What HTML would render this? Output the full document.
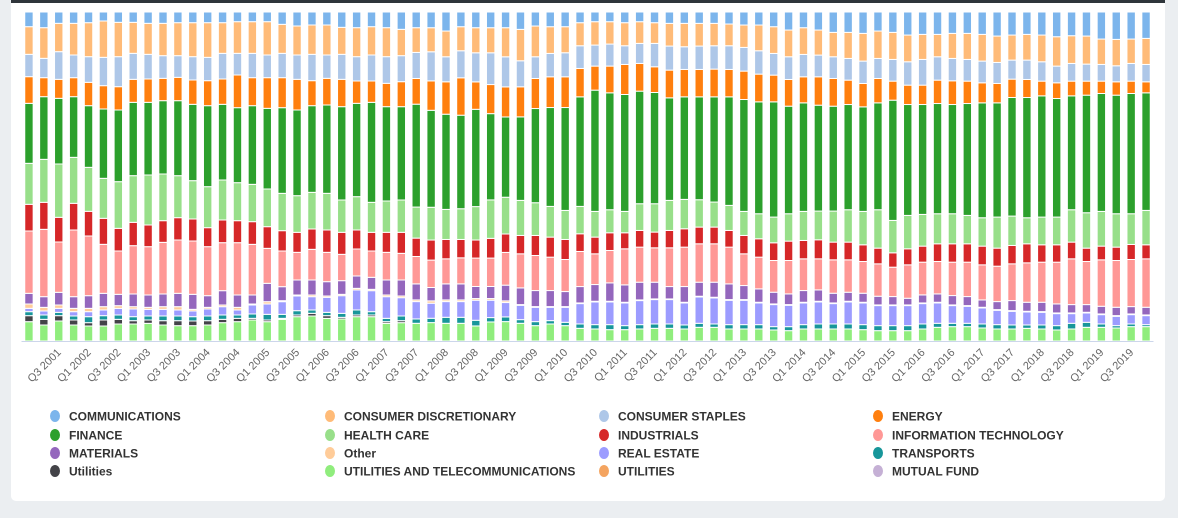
<!DOCTYPE html>
<html><head><meta charset="utf-8"><style>
html,body{margin:0;padding:0;background:#ebeef1;width:1178px;height:518px;overflow:hidden;font-family:"Liberation Sans",sans-serif}
#card{position:absolute;left:11px;top:0;width:1154px;height:501px;background:#fff;border-radius:0 0 5px 5px}
#topbar{position:absolute;left:11px;top:0;width:1154px;height:3px;background:#2f353b}
svg{position:absolute;left:0;top:0}
</style></head><body>
<div id="card"></div>
<div id="topbar"></div>
<svg id="chart" width="1178" height="518"></svg>
<script>
// series values (relative shares per quarter, normalized to 100% per bar)
const comm=[44,47,34,34,32,27,31,31,34,34,32,32,32,32,29,29,29,37,42,39,39,46,47,44,47,52,47,47,57,44,47,47,47,52,42,44,44,32,29,29,32,29,32,34,34,34,34,36,39,39,44,54,47,54,61,61,64,57,61,69,67,67,64,64,67,72,69,67,69,74,71,72,81,82,81,79];
const disc=[83,92,85,95,102,109,103,93,93,97,99,102,104,92,95,95,100,87,87,88,90,81,87,85,87,79,74,72,77,72,75,75,87,94,92,80,78,69,70,67,69,65,62,68,70,68,67,65,67,77,80,80,80,75,73,78,83,82,81,80,75,67,75,78,80,79,75,77,80,88,83,84,76,79,73,78];
const stap=[67,58,83,68,77,85,90,78,74,68,65,70,70,77,65,73,68,73,73,79,70,75,73,78,80,78,78,87,75,81,87,95,90,78,65,70,72,68,63,66,56,60,70,72,68,70,70,71,71,70,65,68,67,65,65,65,67,60,65,70,77,70,67,65,65,63,57,58,58,50,53,51,50,48,53,52];
const energy=[80,57,57,57,70,70,70,69,70,67,70,73,75,76,98,84,92,90,92,75,80,82,67,64,70,75,77,88,97,112,82,87,90,90,90,92,92,85,72,80,90,83,77,83,82,82,83,82,85,83,80,80,78,85,83,73,70,73,57,58,58,70,71,67,60,58,55,54,44,47,44,42,37,40,37,33];
const fin=[180,188,197,182,185,208,215,220,218,220,225,229,243,227,225,236,242,257,257,260,265,280,280,300,283,280,308,290,285,280,291,258,240,250,282,296,308,328,363,350,350,337,333,307,307,308,315,325,335,335,345,322,325,317,314,315,313,320,360,332,329,330,327,335,344,342,355,360,363,355,341,352,353,355,360,352];
const health=[123,129,160,138,132,120,140,140,150,140,126,115,123,120,114,112,113,112,110,110,110,97,100,90,94,97,93,98,90,92,100,115,110,105,98,92,87,82,77,69,64,80,85,90,88,82,75,75,72,75,77,82,87,86,93,97,100,115,97,100,95,90,90,85,85,93,88,78,83,83,97,106,104,100,92,103];
const ind=[80,81,74,80,74,78,68,70,65,65,67,66,57,68,66,68,65,61,60,61,67,66,57,56,60,63,55,60,58,55,54,59,55,55,60,60,60,53,50,53,48,50,47,52,55,50,50,50,55,55,53,58,55,57,53,53,50,47,43,48,48,53,55,55,56,54,55,57,52,52,50,40,41,40,45,42];
const it=[187,202,151,200,179,147,130,145,145,155,160,160,147,144,157,152,105,107,83,92,88,79,81,79,83,80,82,82,75,78,85,85,98,102,105,100,96,105,92,97,108,105,103,116,118,115,115,110,95,95,95,100,95,93,100,97,95,97,88,100,98,97,100,103,105,106,110,118,120,125,137,129,139,140,141,145];
const mat=[32,32,38,35,38,40,34,38,37,38,40,45,35,43,37,27,55,42,45,45,43,41,37,36,45,48,48,40,48,48,36,36,47,50,48,48,45,49,50,55,52,53,50,37,47,42,45,47,42,40,35,32,35,34,29,27,27,26,25,20,24,25,28,27,22,24,30,27,28,27,25,23,23,25,22,23];
const other=[13,11,10,10,10,10,8,7,6,8,10,5,5,5,8,3,7,3,3,5,4,4,5,4,5,5,5,7,5,5,5,5,5,2,2,2,2,2,2,2,2,2,2,2,2,2,2,2,2,2,2,2,2,2,2,2,2,2,2,2,2,2,2,2,2,2,2,2,2,2,2,2,2,2,2,2];
const realEstate=[10,12,12,13,15,17,20,23,20,20,18,17,21,25,15,27,31,38,44,40,45,53,60,63,65,55,52,45,47,47,60,52,43,43,43,40,45,61,68,68,68,72,73,73,66,79,78,73,73,65,66,64,65,66,61,66,65,60,60,60,61,61,53,51,48,43,41,39,38,36,29,28,28,28,28,27];
const transports=[12,13,10,12,18,13,13,12,12,14,14,13,14,13,10,13,17,12,13,10,10,12,15,10,10,14,13,13,18,18,17,13,14,11,12,10,10,13,13,15,12,13,13,13,12,12,10,13,13,13,10,12,13,15,15,15,15,15,15,15,15,12,10,10,12,13,12,10,12,13,17,15,10,7,8,6];
const utilitiesLower=[18,17,16,15,10,18,14,10,10,13,15,14,13,10,10,5,5,3,5,8,8,5,5,5,5,6,0,0,0,0,0,0,0,0,0,0,0,0,0,0,0,0,0,0,0,0,0,0,0,0,0,0,0,0,0,0,0,0,0,0,0,0,0,0,0,0,0,0,0,0,0,0,0,0,0,0];
const utilTele=[58,48,60,48,45,45,51,51,53,48,46,46,48,55,58,63,58,65,73,75,68,66,73,73,53,55,53,55,53,53,45,57,58,53,46,51,46,38,36,34,34,36,38,38,36,41,41,36,36,36,33,31,36,36,36,36,34,31,31,31,36,41,43,43,39,36,36,38,36,33,36,41,41,39,43,43];
const years=[2001,2002,2003,2004,2005,2006,2007,2008,2009,2010,2011,2012,2013,2014,2015,2016,2017,2018,2019];
const quarters=["Q1","Q2","Q3","Q4"];

// stacking order bottom -> top
const stackSeries=[
 {name:"UTILITIES AND TELECOMMUNICATIONS",vals:utilTele,color:"#90ed7d"},
 {name:"Utilities",vals:utilitiesLower,color:"#434348"},
 {name:"TRANSPORTS",vals:transports,color:"#17969a"},
 {name:"REAL ESTATE",vals:realEstate,color:"#9c9cff"},
 {name:"Other",vals:other,color:"#ffcc99"},
 {name:"MATERIALS",vals:mat,color:"#9467bd"},
 {name:"INFORMATION TECHNOLOGY",vals:it,color:"#ff9896"},
 {name:"INDUSTRIALS",vals:ind,color:"#d62728"},
 {name:"HEALTH CARE",vals:health,color:"#98df8a"},
 {name:"FINANCE",vals:fin,color:"#2ca02c"},
 {name:"ENERGY",vals:energy,color:"#ff7f0e"},
 {name:"CONSUMER STAPLES",vals:stap,color:"#aec7e8"},
 {name:"CONSUMER DISCRETIONARY",vals:disc,color:"#ffbb78"},
 {name:"COMMUNICATIONS",vals:comm,color:"#7cb5ec"}
];
const legendItems=[
 ["COMMUNICATIONS","#7cb5ec"],["CONSUMER DISCRETIONARY","#ffbb78"],["CONSUMER STAPLES","#aec7e8"],["ENERGY","#ff7f0e"],
 ["FINANCE","#2ca02c"],["HEALTH CARE","#98df8a"],["INDUSTRIALS","#d62728"],["INFORMATION TECHNOLOGY","#ff9896"],
 ["MATERIALS","#9467bd"],["Other","#ffcc99"],["REAL ESTATE","#9c9cff"],["TRANSPORTS","#17969a"],
 ["Utilities","#434348"],["UTILITIES AND TELECOMMUNICATIONS","#90ed7d"],["UTILITIES","#f4a460"],["MUTUAL FUND","#c5b0d5"]
];

const categories=[];
years.forEach(y=>quarters.forEach(q=>categories.push(q+" "+y)));
const NS="http://www.w3.org/2000/svg";
const svg=document.getElementById("chart");
const plotL=21.5, plotR=1153.5, plotT=12, plotB=341;
const n=categories.length;
const step=(plotR-plotL)/n;
const barW=8.4;
const xCenter=i=>plotL+step*(i+0.5);
const yScale=p=>plotB-(plotB-plotT)*p/100;
function mk(tag,attrs){const e=document.createElementNS(NS,tag);for(const k in attrs)e.setAttribute(k,attrs[k]);return e;}

const gBars=mk("g",{});


svg.appendChild(gBars);
for(let i=0;i<n;i++){
  let total=0; stackSeries.forEach(s=>total+=(s.vals[i]||0));
  let cum=0;
  stackSeries.forEach(s=>{
    const v=s.vals[i]||0; if(v<=0)return;
    const p0=cum/total*100, p1=(cum+v)/total*100; cum+=v;
    const y1=yScale(p1), y0=yScale(p0);
    const r=mk("rect",{x:(xCenter(i)-barW/2).toFixed(2),y:y1.toFixed(2),width:barW,height:Math.max(0,y0-y1).toFixed(2),fill:s.color,stroke:"#fff","stroke-width":1});
    
    
    gBars.appendChild(r);
  });
}
const axis=mk("line",{x1:plotL,x2:plotR,y1:plotB+0.5,y2:plotB+0.5,stroke:"#ccd6eb","stroke-width":1});


svg.appendChild(axis);
for(let i=2;i<n;i+=2){
  const x=xCenter(i)+3, y=353;
  const t=mk("text",{x:x,y:y,"text-anchor":"end",transform:`rotate(-45 ${x} ${y})`,"font-size":"11","fill":"#666","font-family":"Liberation Sans, sans-serif"});
  t.textContent=categories[i];
  
  
  svg.appendChild(t);
}
const colX=[55,330,604,878], rowY=[416,435,453,471];
legendItems.forEach((it,k)=>{
  const cx=colX[k%4], cy=rowY[Math.floor(k/4)];
  const g=mk("g",{});
  
  
  g.appendChild(mk("ellipse",{cx:cx,cy:cy,rx:5,ry:6,fill:it[1]}));
  const t=mk("text",{x:cx+14,y:cy+4.5,"font-size":"12","font-weight":"bold","fill":"#333","font-family":"Liberation Sans, sans-serif"});
  t.textContent=it[0];
  g.appendChild(t);
  svg.appendChild(g);
});
</script>
</body></html>
